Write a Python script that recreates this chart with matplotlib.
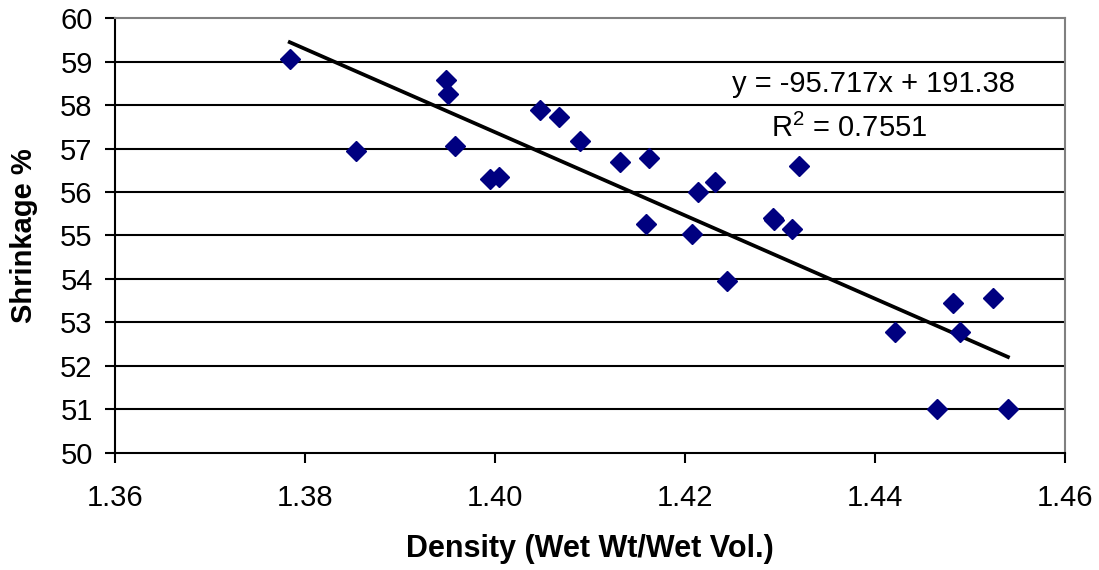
import numpy as np
import matplotlib.pyplot as plt

# density vs shrinkage readings
density = [1.3784, 1.3854, 1.3948, 1.3951, 1.3958, 1.3995, 1.4004, 1.4047,
           1.4067, 1.4090, 1.4132, 1.4162, 1.4159, 1.4207, 1.4214, 1.4232,
           1.4244, 1.4293, 1.4294, 1.4313, 1.4320, 1.4421, 1.4482, 1.4524,
           1.4490, 1.4465, 1.4540]
shrinkage = [59.05, 56.95, 58.58, 58.26, 57.05, 56.29, 56.35, 57.89,
             57.72, 57.18, 56.68, 56.79, 55.26, 55.04, 56.00, 56.22,
             53.95, 55.41, 55.35, 55.15, 56.60, 52.77, 53.45, 53.56,
             52.78, 51.00, 51.00]
slope, intercept = -95.717, 191.38
r2 = 0.7551

plt.rcParams['font.family'] = ['Liberation Sans', 'DejaVu Sans']

fig = plt.figure(figsize=(10.99, 5.70), dpi=100)
ax = fig.add_axes([0.1046, 0.2053, 0.8644, 0.7631])

ax.set_xlim(1.36, 1.46)
ax.set_ylim(50, 60)
ax.set_yticks(np.arange(50, 61, 1))
ax.set_xticks(np.arange(1.36, 1.461, 0.02))
ax.set_xticklabels(['%.2f' % v for v in np.arange(1.36, 1.461, 0.02)])

# horizontal gridlines
for v in range(51, 60):
    ax.axhline(v, color='black', lw=1.5, zorder=1)

ax.plot(density, shrinkage, 'D', color='#000080', ms=10, mec='#000080', zorder=3)

xfit = np.array([min(density), max(density)])
ax.plot(xfit, slope * xfit + intercept, color='black', lw=2.7, zorder=2)

ax.text(1.4398, 58.48, 'y = -95.717x + 191.38', fontsize=21, ha='center', va='center')
ax.text(1.4373, 57.47, '$\\mathregular{R^2}$ = %.4f' % r2, fontsize=21, ha='center', va='center')

for s in ['left', 'bottom']:
    ax.spines[s].set_color('black')
    ax.spines[s].set_linewidth(1.5)
for s in ['top', 'right']:
    ax.spines[s].set_color('#808080')
    ax.spines[s].set_linewidth(1.5)

ax.tick_params(direction='out', length=7, width=1.5, labelsize=21)
ax.tick_params(axis='x', pad=15)
ax.tick_params(axis='y', pad=9)

ax.set_xlabel('Density (Wet Wt/Wet Vol.)', fontsize=22, fontweight='bold', labelpad=16)
ax.set_ylabel('Shrinkage %', fontsize=21, fontweight='bold', labelpad=16)

fig.savefig('out.png', dpi=100)
